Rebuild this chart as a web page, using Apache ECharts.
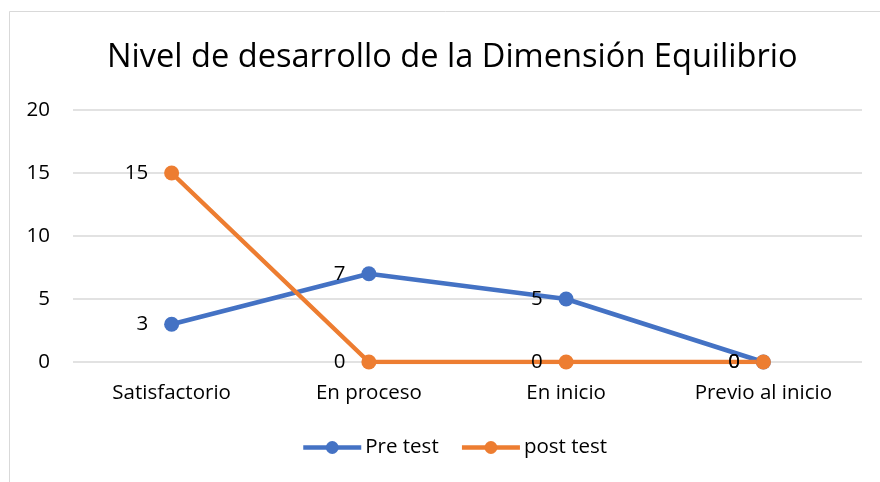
<!doctype html>
<html lang="es">
<head>
  <meta charset="UTF-8">
  <title>Nivel de desarrollo de la Dimensión Equilibrio</title>
  <style>
    html, body { margin: 0; padding: 0; background: #fff; }
    #chart { width: 880px; height: 482px; }
  </style>
  <script src="https://cdn.jsdelivr.net/npm/echarts@6/dist/echarts.min.js"></script>
</head>
<body>
  <div id="chart"></div>
  <script>
    var categories = ['Satisfactorio', 'En proceso', 'En inicio', 'Previo al inicio'];
    var preTest = [3, 7, 5, 0];
    var postTest = [15, 0, 0, 0];

    var font = 'Open Sans';
    var myChart = echarts.init(document.getElementById('chart'));

    function lineSeries(name, data, color) {
      return {
        name: name,
        type: 'line',
        data: data,
        symbol: 'circle',
        symbolSize: 15,
        lineStyle: { width: 4.5, color: color },
        itemStyle: { color: color },
        label: {
          show: true,
          position: 'left',
          distance: 16,
          color: '#000',
          fontFamily: font,
          fontSize: 20.5
        }
      };
    }

    var option = {
      backgroundColor: '#fff',
      animation: false,
      graphic: [{
        type: 'rect',
        shape: { x: 9.5, y: 11.5, width: 900, height: 500 },
        style: { fill: 'none', stroke: '#d9d9d9', lineWidth: 1 },
        silent: true
      }],
      title: {
        text: 'Nivel de desarrollo de la Dimensión Equilibrio',
        left: 102,
        top: 36,
        textStyle: { fontFamily: font, fontSize: 32.6, fontWeight: 'normal', color: '#000' }
      },
      legend: {
        bottom: 19,
        left: 296,
        itemWidth: 58,
        itemHeight: 16,
        itemGap: 21,
        lineStyle: { width: 4.5 },
        textStyle: { fontFamily: font, fontSize: 20.5, color: '#000', padding: [0, 0, 0, -1] },
        data: ['Pre test', 'post test']
      },
      grid: { left: 73, right: 18, top: 110, bottom: 120 },
      xAxis: {
        type: 'category',
        data: categories,
        boundaryGap: true,
        axisLine: { show: false },
        axisTick: { show: false },
        axisLabel: { color: '#000', fontFamily: font, fontSize: 20.5, margin: 21 }
      },
      yAxis: {
        type: 'value',
        min: 0,
        max: 20,
        interval: 5,
        axisLine: { show: false },
        axisTick: { show: false },
        axisLabel: { color: '#000', fontFamily: font, fontSize: 20.5, margin: 23 },
        splitLine: { lineStyle: { color: '#d9d9d9', width: 1.5 } }
      },
      series: [
        lineSeries('Pre test', preTest, '#4472C4'),
        lineSeries('post test', postTest, '#ED7D31')
      ]
    };
    myChart.setOption(option);
  </script>
</body>
</html>
